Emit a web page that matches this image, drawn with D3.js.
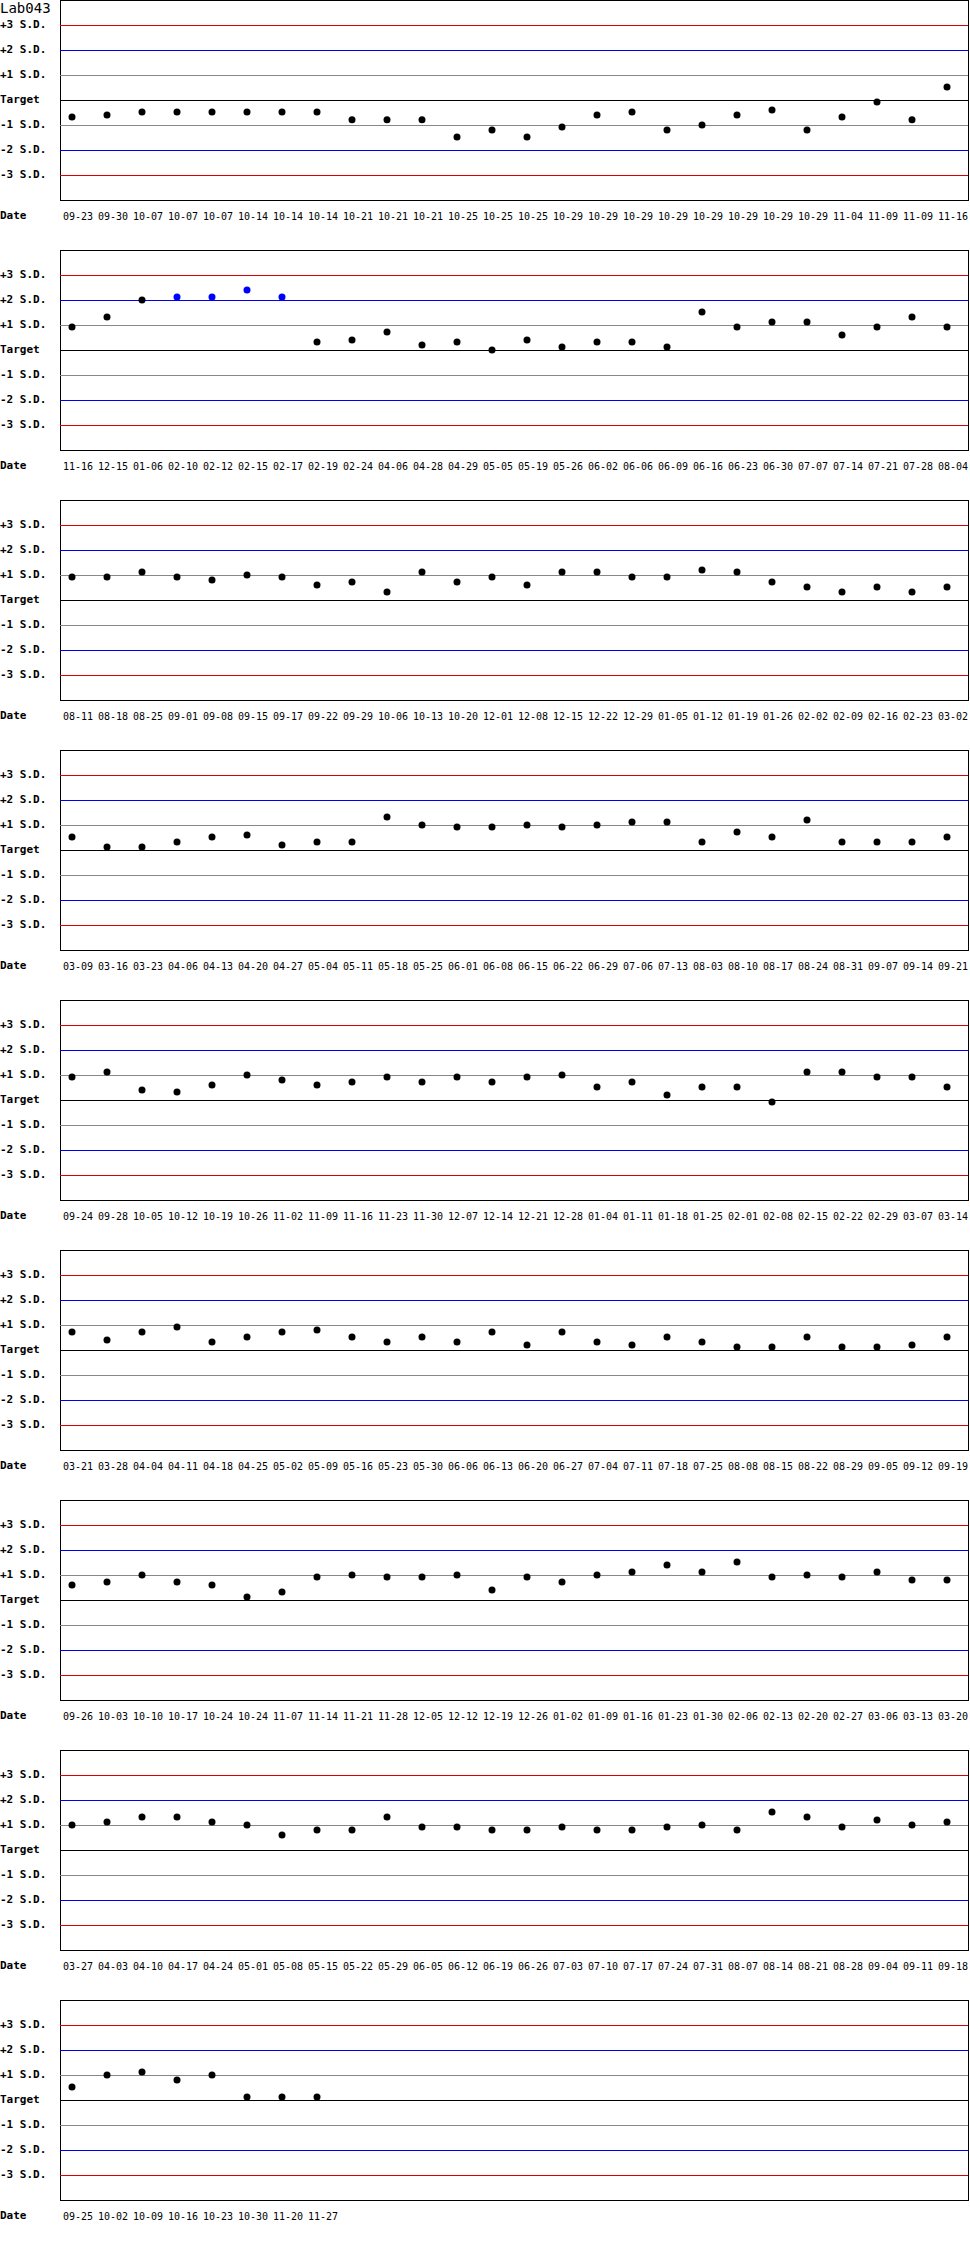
<!DOCTYPE html>
<html>
<head>
    <script src="https://cdn.jsdelivr.net/npm/d3@7"></script>
    <style>
        body {
            margin: 0;
            background: white;
        }
        .sd-label, .date-title {
            font-family: "DejaVu Sans Mono", monospace;
            font-size: 11px;
            font-weight: bold;
        }
        .date-label {
            font-family: "DejaVu Sans Mono", monospace;
            font-size: 10px;
        }
        .lab-title {
            font-family: "DejaVu Sans Mono", monospace;
            font-size: 14px;
        }
    </style>
</head>
<body>
<div id="chart"></div>
<script>
    // chart title
    var labName = "Lab043";

    // reference lines (in S.D. units) and their labels
    var sdLevels = [3, 2, 1, 0, -1, -2, -3];
    var sdLabels = ["+3 S.D.", "+2 S.D.", "+1 S.D.", "Target", "-1 S.D.", "-2 S.D.", "-3 S.D."];

    // one pair of arrays per panel: dates and results in S.D.
    var dates1 = ["09-23", "09-30", "10-07", "10-07", "10-07", "10-14", "10-14", "10-14", "10-21", "10-21", "10-21", "10-25", "10-25",
        "10-25", "10-29", "10-29", "10-29", "10-29", "10-29", "10-29", "10-29", "10-29", "11-04", "11-09", "11-09", "11-16"];
    var values1 = [-0.68, -0.6, -0.48, -0.48, -0.48, -0.48, -0.48, -0.48, -0.79, -0.79, -0.79, -1.48, -1.2,
        -1.48, -1.08, -0.6, -0.48, -1.2, -1.0, -0.6, -0.4, -1.2, -0.68, -0.08, -0.79, 0.52];

    var dates2 = ["11-16", "12-15", "01-06", "02-10", "02-12", "02-15", "02-17", "02-19", "02-24", "04-06", "04-28", "04-29", "05-05",
        "05-19", "05-26", "06-02", "06-06", "06-09", "06-16", "06-23", "06-30", "07-07", "07-14", "07-21", "07-28", "08-04"];
    var values2 = [0.92, 1.32, 2.0, 2.12, 2.12, 2.4, 2.12, 0.32, 0.4, 0.72, 0.2, 0.32, 0.0,
        0.4, 0.12, 0.32, 0.32, 0.12, 1.52, 0.92, 1.12, 1.12, 0.6, 0.92, 1.32, 0.92];

    var dates3 = ["08-11", "08-18", "08-25", "09-01", "09-08", "09-15", "09-17", "09-22", "09-29", "10-06", "10-13", "10-20", "12-01",
        "12-08", "12-15", "12-22", "12-29", "01-05", "01-12", "01-19", "01-26", "02-02", "02-09", "02-16", "02-23", "03-02"];
    var values3 = [0.92, 0.92, 1.12, 0.92, 0.8, 1.0, 0.92, 0.6, 0.72, 0.32, 1.12, 0.72, 0.92,
        0.6, 1.12, 1.12, 0.92, 0.92, 1.2, 1.12, 0.72, 0.52, 0.32, 0.52, 0.32, 0.52];

    var dates4 = ["03-09", "03-16", "03-23", "04-06", "04-13", "04-20", "04-27", "05-04", "05-11", "05-18", "05-25", "06-01", "06-08",
        "06-15", "06-22", "06-29", "07-06", "07-13", "08-03", "08-10", "08-17", "08-24", "08-31", "09-07", "09-14", "09-21"];
    var values4 = [0.52, 0.12, 0.12, 0.32, 0.52, 0.6, 0.2, 0.32, 0.32, 1.32, 1.0, 0.92, 0.92,
        1.0, 0.92, 1.0, 1.12, 1.12, 0.32, 0.72, 0.52, 1.2, 0.32, 0.32, 0.32, 0.52];

    var dates5 = ["09-24", "09-28", "10-05", "10-12", "10-19", "10-26", "11-02", "11-09", "11-16", "11-23", "11-30", "12-07", "12-14",
        "12-21", "12-28", "01-04", "01-11", "01-18", "01-25", "02-01", "02-08", "02-15", "02-22", "02-29", "03-07", "03-14"];
    var values5 = [0.92, 1.12, 0.4, 0.32, 0.6, 1.0, 0.8, 0.6, 0.72, 0.92, 0.72, 0.92, 0.72,
        0.92, 1.0, 0.52, 0.72, 0.2, 0.52, 0.52, -0.08, 1.12, 1.12, 0.92, 0.92, 0.52];

    var dates6 = ["03-21", "03-28", "04-04", "04-11", "04-18", "04-25", "05-02", "05-09", "05-16", "05-23", "05-30", "06-06", "06-13",
        "06-20", "06-27", "07-04", "07-11", "07-18", "07-25", "08-08", "08-15", "08-22", "08-29", "09-05", "09-12", "09-19"];
    var values6 = [0.72, 0.4, 0.72, 0.92, 0.32, 0.52, 0.72, 0.8, 0.52, 0.32, 0.52, 0.32, 0.72,
        0.2, 0.72, 0.32, 0.2, 0.52, 0.32, 0.12, 0.12, 0.52, 0.12, 0.12, 0.2, 0.52];

    var dates7 = ["09-26", "10-03", "10-10", "10-17", "10-24", "10-24", "11-07", "11-14", "11-21", "11-28", "12-05", "12-12", "12-19",
        "12-26", "01-02", "01-09", "01-16", "01-23", "01-30", "02-06", "02-13", "02-20", "02-27", "03-06", "03-13", "03-20"];
    var values7 = [0.6, 0.72, 1.0, 0.72, 0.6, 0.12, 0.32, 0.92, 1.0, 0.92, 0.92, 1.0, 0.4,
        0.92, 0.72, 1.0, 1.12, 1.4, 1.12, 1.52, 0.92, 1.0, 0.92, 1.12, 0.8, 0.8];

    var dates8 = ["03-27", "04-03", "04-10", "04-17", "04-24", "05-01", "05-08", "05-15", "05-22", "05-29", "06-05", "06-12", "06-19",
        "06-26", "07-03", "07-10", "07-17", "07-24", "07-31", "08-07", "08-14", "08-21", "08-28", "09-04", "09-11", "09-18"];
    var values8 = [1.0, 1.12, 1.32, 1.32, 1.12, 1.0, 0.6, 0.8, 0.8, 1.32, 0.92, 0.92, 0.8,
        0.8, 0.92, 0.8, 0.8, 0.92, 1.0, 0.8, 1.52, 1.32, 0.92, 1.2, 1.0, 1.12];

    var dates9 = ["09-25", "10-02", "10-09", "10-16", "10-23", "10-30", "11-20", "11-27"];
    var values9 = [0.52, 1.0, 1.12, 0.8, 1.0, 0.12, 0.12, 0.12];

    var panels = [
        {dates: dates1, values: values1},
        {dates: dates2, values: values2},
        {dates: dates3, values: values3},
        {dates: dates4, values: values4},
        {dates: dates5, values: values5},
        {dates: dates6, values: values6},
        {dates: dates7, values: values7},
        {dates: dates8, values: values8},
        {dates: dates9, values: values9}
    ];

    // layout
    var width = 970, height = 2250;
    var panelStep = 250, panelHeight = 200;
    var left = 60, right = 968;
    var slots = 26;

    // x: one slot per result, 35px apart
    var x = d3.scaleBand()
        .domain(d3.range(slots))
        .range([54.5, 54.5 + slots * 35]);
    // y: S.D. units inside one panel
    var y = d3.scaleLinear().domain([-4, 4]).range([panelHeight, 0]);

    function lineColor(level) {
        if (level === 0) return "#000";
        if (Math.abs(level) === 3) return "#dd0000";
        if (Math.abs(level) === 2) return "#0000ee";
        return "#888";
    }

    var svg = d3.select("#chart").append("svg")
        .attr("width", width)
        .attr("height", height);

    svg.append("text")
        .attr("class", "lab-title")
        .attr("x", 0)
        .attr("y", 13)
        .text(labName);

    panels.forEach(function (p, k) {
        var g = svg.append("g")
            .attr("transform", "translate(0," + (k * panelStep) + ")");

        // frame
        g.append("rect")
            .attr("x", left + 0.5)
            .attr("y", 0.5)
            .attr("width", right - left)
            .attr("height", panelHeight)
            .attr("fill", "none")
            .attr("stroke", "#000");

        // S.D. lines
        g.selectAll(".sd-line")
            .data(sdLevels)
            .enter()
            .append("line")
            .attr("x1", left)
            .attr("x2", right)
            .attr("y1", function (d) { return Math.round(y(d)) + 0.5; })
            .attr("y2", function (d) { return Math.round(y(d)) + 0.5; })
            .attr("stroke", lineColor)
            .attr("stroke-width", 1);

        // S.D. labels
        g.selectAll(".sd-label")
            .data(sdLevels)
            .enter()
            .append("text")
            .attr("class", "sd-label")
            .attr("x", 0)
            .attr("y", function (d) { return y(d) + 3; })
            .text(function (d, i) { return sdLabels[i]; });

        // results
        g.selectAll("circle")
            .data(p.values)
            .enter()
            .append("circle")
            .attr("cx", function (d, i) { return x(i) + x.bandwidth() / 2; })
            .attr("cy", function (d) { return y(d); })
            .attr("r", 3.5)
            .attr("fill", function (d) { return d > 2 ? "#0000ff" : "#000"; });

        // date row
        g.append("text")
            .attr("class", "date-title")
            .attr("x", 0)
            .attr("y", panelHeight + 19)
            .text("Date");

        g.selectAll(".date-label")
            .data(p.dates)
            .enter()
            .append("text")
            .attr("class", "date-label")
            .attr("x", function (d, i) { return x(i) + x.bandwidth() / 2 - 9; })
            .attr("y", panelHeight + 20)
            .text(function (d) { return d; });
    });
</script>
</body>
</html>
